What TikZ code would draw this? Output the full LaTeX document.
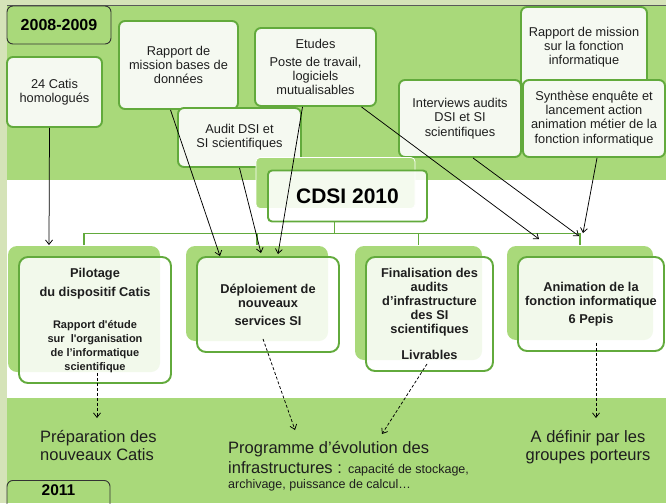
\documentclass[tikz,border=0pt]{standalone}
\usepackage{fontspec}
\setmainfont{Liberation Sans}
\usepackage{xcolor}
\usepackage{tikz}
\usetikzlibrary{arrows, arrows.meta, calc, shadows}
\definecolor{bandgreen}{HTML}{A9D97A}
\definecolor{greenborder}{HTML}{62AA3C}
\definecolor{boxwhite}{HTML}{F5F9F1}
\definecolor{stripgreen}{HTML}{D5E3B8}
\definecolor{inkdark}{HTML}{1E1E1E}
\newcommand{\subline}{\fontsize{11}{13}\selectfont}
\newcommand{\detail}{\fontsize{12.5}{15}\selectfont}

\begin{document}
\begin{tikzpicture}[
    x=1pt, y=-1pt,
    topbox/.style={rectangle, rounded corners=6pt, draw=greenborder, line width=1.9pt, fill=boxwhite, inner sep=1pt, align=center, text=inkdark, font=\fontsize{12.8}{14.2}\selectfont},
    taskbox/.style={rectangle, rounded corners=9pt, draw=greenborder, line width=1.9pt, fill=white, fill opacity=0.85, text opacity=1, inner sep=1pt, align=center, text=inkdark, font=\bfseries\fontsize{12.8}{14}\selectfont,
      general shadow={draw=none, fill=bandgreen, fill opacity=1, shadow xshift=-11pt, shadow yshift=11pt}},
    cdsibox/.style={rectangle, rounded corners=4pt, draw=greenborder, line width=1.9pt, fill=white, fill opacity=0.88, text opacity=1, text=black, font=\bfseries\fontsize{21}{24}\selectfont,
      general shadow={draw=white, line width=0.8pt, fill=bandgreen, fill opacity=1, shadow xshift=-12pt, shadow yshift=13pt}},
    yearbox/.style={rectangle, rounded corners=6pt, draw=black!80, line width=0.9pt, text=black, font=\bfseries\fontsize{16}{19}\selectfont},
    outcome/.style={inner sep=0pt, text=inkdark, font=\fontsize{16.5}{18.5}\selectfont},
    tree/.style={draw=greenborder, line width=1.8pt},
    arrow/.style={-{Straight Barb[length=4.5pt, width=7pt]}, black, line width=0.75pt},
    dasharrow/.style={arrow, dash pattern=on 3pt off 2pt}
  ]
    \useasboundingbox (0,0) rectangle (666,503);

    % background bands
    \fill[stripgreen] (0,0) rectangle (666,503);
    \fill[bandgreen] (7,6) rectangle (666,180);
    \fill[white] (7,180) rectangle (666,398);
    \fill[bandgreen] (7,398) rectangle (666,503);
    \draw[black!65, line width=1.5pt] (7,5.5) -- (666,5.5);

    % years
    \node[yearbox, minimum width=104pt, minimum height=38pt] (y0809) at (59,25) {2008-2009};
    \node[yearbox, font=\bfseries\fontsize{15.5}{18}\selectfont, minimum width=103pt, inner sep=4pt, text depth=22pt, anchor=north] (y2011) at (58.5,480) {2011};

    % inputs 2008-2009
    \node[topbox, minimum width=95pt, minimum height=70pt] (catis) at (54.5,92) {24 Catis\\homologués};
    \node[topbox, minimum width=119pt, minimum height=88pt] (rapbd) at (178.5,65) {Rapport de\\mission bases de\\données};
    \node[topbox, minimum width=121pt, minimum height=78pt] (etudes) at (315.5,67) {Etudes\\[4pt]Poste de travail,\\logiciels\\mutualisables};
    \node[topbox, minimum width=123pt, minimum height=59pt] (audit) at (239.5,137.5) {Audit DSI et\\SI scientifiques};
    \node[topbox, minimum width=126pt, minimum height=80pt] (rapfi) at (584,47) {Rapport de mission\\sur la fonction\\informatique};
    \node[topbox, minimum width=122pt, minimum height=77pt] (interv) at (460,118.5) {Interviews audits\\DSI et SI\\scientifiques};
    \node[topbox, minimum width=142pt, minimum height=77pt] (synth) at (594,118.5) {Synthèse enquête et\\lancement action\\animation métier de la\\fonction informatique};

    % CDSI 2010 and its four actions
    \node[cdsibox, minimum width=159pt, minimum height=51pt] (cdsi) at (347.5,196) {CDSI 2010};

    \node[taskbox, minimum width=152pt, minimum height=126pt] (pilot) at (95,320) {Pilotage\\[5pt]du dispositif Catis\\[18pt]\subline Rapport d\textquotesingle étude\\\subline sur~~l\textquotesingle organisation\\\subline de l’informatique\\\subline scientifique};
    \node[taskbox, minimum width=142pt, minimum height=95pt] (deploy) at (268,304.5) {Déploiement de\\nouveaux\\[4pt]services SI};
    \node[taskbox, minimum width=127pt, minimum height=114pt] (final) at (429.5,314) {Finalisation des\\audits\\d’infrastructure\\des SI\\scientifiques\\[12pt]Livrables};
    \node[taskbox, minimum width=146pt, minimum height=94pt] (anim) at (591,304) {Animation de la\\fonction informatique\\[4pt]6 Pepis};

    \draw[tree] ([xshift=-13pt]cdsi.south) -- ++(0,11) coordinate (bus);
    \foreach \task in {pilot, deploy, final, anim}
      \draw[tree] ([shift={(-11,-11)}]\task.north) |- (bus);

    % outcomes 2011
    \node[outcome, align=left, anchor=north west] (prep) at (40,430) {Préparation des\\nouveaux Catis};
    \node[outcome, align=left, anchor=north west, font=\fontsize{16.5}{20}\selectfont] (prog) at (228,441) {Programme d’évolution des\\infrastructures : {\detail capacité de stockage,}\\[-5pt]\detail archivage, puissance de calcul…};
    \node[outcome, align=center, anchor=north] (adef) at (588,430) {A définir par les\\groupes porteurs};

    % inputs -> actions
    \draw[arrow] ([xshift=-5pt]catis.south) -- ([shift={(-46,-11)}]pilot.north);
    \draw[arrow] ([xshift=-8pt]rapbd.south) -- ([xshift=-48pt]deploy.north);
    \draw[arrow] (audit.south) -- ([shift={(-7,-3)}]deploy.north);
    \draw[arrow] ([xshift=-13pt]etudes.south) -- ([shift={(10,-2)}]deploy.north);
    \draw[arrow] ([xshift=46pt]etudes.south) -- ([shift={(-52,-17)}]anim.north);
    \draw[arrow] ([xshift=13pt]interv.south) -- ([shift={(-12,-20)}]anim.north);
    \draw[arrow] ([xshift=3pt]synth.south) -- ([shift={(-8,-23)}]anim.north);

    % actions -> outcomes
    \draw[dasharrow] ([shift={(2,-11)}]pilot.south) -- ([shift={(57,-12)}]prep.north west);
    \draw[dasharrow] ([shift={(-5,-14)}]deploy.south) -- ([shift={(67,-11)}]prog.north west);
    \draw[dasharrow] ([shift={(-2.5,-8)}]final.south) -- ([shift={(154,-7)}]prog.north west);
    \draw[dasharrow] ([shift={(5,-9)}]anim.south) -- ([shift={(8,-12)}]adef.north);
  \end{tikzpicture}
\end{document}
